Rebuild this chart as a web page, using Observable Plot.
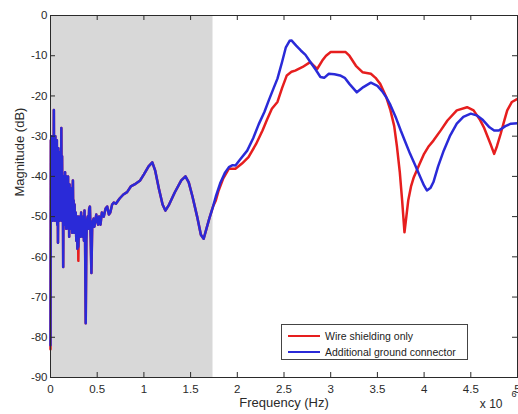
<!DOCTYPE html>
<html><head><meta charset="utf-8">
<script src="https://cdn.jsdelivr.net/npm/d3@7"></script>
<script src="https://cdn.jsdelivr.net/npm/@observablehq/plot@0.6"></script>
<style>
html,body{margin:0;padding:0;background:#fff;}
#wrap{position:relative;width:518px;height:414px;overflow:hidden;}
.legend{position:absolute;left:281px;top:324px;width:185px;height:34px;border:1px solid #444;background:#fff;font:10.5px "Liberation Sans",Arial,sans-serif;color:#222;}
.row{position:absolute;left:0;height:16px;display:flex;align-items:center;white-space:nowrap;}
.sw{display:inline-block;width:32px;height:2.5px;margin-left:6px;margin-right:5px;}
</style></head><body><div id="wrap"></div>
<script>
// ---- data (frequency in units of 10^6 Hz, magnitude in dB) ----
const seriesNames = ["Wire shielding only", "Additional ground connector"];
const seriesColors = ["#e61e1e", "#2a2ad8"];
const xTicks = [0, 0.5, 1, 1.5, 2, 2.5, 3, 3.5, 4, 4.5, 5];
const yTicks = [0, -10, -20, -30, -40, -50, -60, -70, -80, -90];
const shadedBand = [0, 1.74];

// low-frequency part, common to both measurements
const sharedFreq = [0, 0.004, 0.008, 0.012, 0.016, 0.02, 0.024, 0.028, 0.032, 0.036, 0.04, 0.044, 0.048, 0.052, 0.056, 0.06, 0.064, 0.068, 0.072, 0.076, 0.08, 0.084, 0.088, 0.092, 0.096, 0.1, 0.104, 0.108, 0.112, 0.116, 0.12, 0.124, 0.128, 0.132, 0.136, 0.14, 0.144, 0.148, 0.152, 0.156, 0.16, 0.164, 0.168, 0.172, 0.176, 0.18, 0.184, 0.188, 0.192, 0.196, 0.2, 0.204, 0.208, 0.212, 0.216, 0.22, 0.224, 0.228, 0.232, 0.236, 0.24, 0.244, 0.248, 0.252, 0.258, 0.264, 0.27, 0.276, 0.282, 0.288, 0.294, 0.298, 0.304, 0.31, 0.316, 0.322, 0.328, 0.334, 0.34, 0.346, 0.352, 0.358, 0.364, 0.37, 0.377, 0.384, 0.39, 0.398, 0.406, 0.414, 0.422, 0.43, 0.438, 0.446, 0.454, 0.462, 0.47, 0.48, 0.49, 0.5, 0.51, 0.52, 0.535, 0.55, 0.57, 0.59, 0.607, 0.625, 0.64, 0.66, 0.678, 0.7, 0.74, 0.78, 0.82, 0.86, 0.9, 0.96, 1.0, 1.05, 1.09, 1.12, 1.16, 1.2, 1.23, 1.27, 1.33, 1.4, 1.445, 1.48, 1.52, 1.57, 1.61, 1.64, 1.67, 1.7, 1.74];
const sharedMag = [-82, -31, -49, -30, -50, -31, -51, -30, -49, -23.5, -50, -32, -51, -30, -49, -33, -50, -31, -52, -34, -56.5, -33, -50, -35, -51, -34, -49, -36, -50, -28, -51, -35, -50, -40, -62.5, -40, -51, -41, -52, -39, -50, -41, -53, -40, -51, -42, -52, -40, -53, -43, -55, -42, -52, -44, -53, -43, -51, -45, -54, -44, -41, -52, -46, -54, -47, -53, -49, -56, -50, -58, -50, -57.5, -52, -54, -50, -55, -49, -54, -50, -55, -51, -56, -48.5, -55, -76.5, -56, -51, -50, -53, -48, -47.5, -55, -64, -53, -51, -50.5, -52.5, -51, -49.5, -51, -52, -50, -52, -49, -50, -48, -47.5, -49.5, -49, -47, -46.5, -46.8, -45.5, -44.5, -43.9, -42.5, -42, -41, -39.5, -37.5, -36.5, -38.5, -43, -47, -48.5, -47, -44, -41, -40, -41.5, -45, -50, -54.5, -55.5, -53, -50.5, -47.5];

// where the red trace peeks out below the blue one in the shared part
const redLowFreq = [0, 0.298];
const redLowMag = [-83, -61];

// wire shielding only (red), above the shaded band
const redFreq = [1.77, 1.8, 1.85, 1.91, 1.98, 2.05, 2.12, 2.2, 2.27, 2.32, 2.37, 2.43, 2.48, 2.53, 2.58, 2.62, 2.7, 2.78, 2.855, 2.91, 2.95, 3.0, 3.05, 3.16, 3.2, 3.27, 3.34, 3.43, 3.48, 3.53, 3.59, 3.64, 3.68, 3.71, 3.74, 3.765, 3.79, 3.81, 3.83, 3.86, 3.89, 3.95, 4.0, 4.05, 4.1, 4.18, 4.25, 4.35, 4.46, 4.53, 4.6, 4.64, 4.71, 4.75, 4.78, 4.82, 4.86, 4.89, 4.94, 5.0];
const redMag = [-46, -43.5, -40.5, -38.1, -38.1, -36.8, -35.2, -32, -28.6, -25.8, -23.2, -21.5, -18, -14.9, -14, -13.7, -12.8, -11.6, -13.3, -11.2, -10, -9.1, -9.1, -9.1, -10, -12.5, -14.1, -14.5, -15.5, -17, -20, -23.6, -27.5, -32.7, -39, -46, -53.9, -50, -46, -42.5, -40.2, -37, -34.4, -32.5, -31.1, -28.5, -26.1, -23.6, -22.8, -23.6, -26, -27.8, -31.9, -34.4, -32.5, -29.4, -26, -23.6, -21.5, -20.7];

// additional ground connector (blue), above the shaded band
const blueFreq = [1.77, 1.82, 1.87, 1.91, 1.95, 1.98, 2.03, 2.106, 2.17, 2.23, 2.29, 2.337, 2.39, 2.43, 2.48, 2.52, 2.56, 2.58, 2.63, 2.68, 2.73, 2.78, 2.84, 2.89, 2.93, 2.98, 3.04, 3.1, 3.15, 3.2, 3.28, 3.35, 3.43, 3.5, 3.55, 3.6, 3.64, 3.7, 3.75, 3.8, 3.85, 3.9, 3.96, 4.0, 4.03, 4.07, 4.1, 4.15, 4.21, 4.28, 4.35, 4.42, 4.5, 4.57, 4.63, 4.7, 4.75, 4.8, 4.87, 4.93, 5.0];
const blueMag = [-45, -41.5, -39, -37.7, -37.2, -37.3, -35.8, -33.6, -30.5, -27, -24, -21.1, -18, -15.7, -11.5, -7.9, -6.3, -6.2, -7.5, -8.7, -9.8, -11.5, -13.5, -15.3, -15.5, -14.5, -14.6, -14.9, -15.5, -17, -19.1, -17.8, -16.7, -17.5, -18.8, -20.5, -22.3, -25.5, -28.6, -31.5, -34.4, -37, -40.2, -42.3, -43.5, -42.8, -41.4, -37.5, -33.6, -29.8, -26.9, -25.2, -24.4, -24.9, -26, -27.8, -28.6, -28.6, -27.5, -26.9, -26.8];

// ---- build tables ----
const redOverride = new Map(redLowFreq.map((f, i) => [f, redLowMag[i]]));
const redData = sharedFreq.map((f, i) => ({f, m: redOverride.has(f) ? redOverride.get(f) : sharedMag[i]}))
  .concat(redFreq.map((f, i) => ({f, m: redMag[i]})));
const blueData = sharedFreq.map((f, i) => ({f, m: sharedMag[i]}))
  .concat(blueFreq.map((f, i) => ({f, m: blueMag[i]})));

const W = 518, H = 414, mL = 50, mR = 1, mT = 15, mB = 37;
const fw = W - mL - mR, fh = H - mT - mB, tk = 5;
const ink = "#2a2a2a";

const chart = Plot.plot({
  width: W, height: H,
  marginLeft: mL, marginRight: mR, marginTop: mT, marginBottom: mB,
  style: {fontFamily: "'Liberation Sans', Arial, sans-serif", fontSize: "11.5px", color: ink, background: "#fff", overflow: "visible"},
  x: {domain: [0, 5]},
  y: {domain: [-90, 0]},
  marks: [
    Plot.rect([shadedBand], {x1: d => d[0], x2: d => d[1], fill: "#d8d8d8"}),
    Plot.line(redData, {x: "f", y: "m", stroke: seriesColors[0], strokeWidth: 2.5, curve: "linear"}),
    Plot.line(blueData, {x: "f", y: "m", stroke: seriesColors[1], strokeWidth: 2.5, curve: "linear"}),
    Plot.frame({stroke: ink, strokeWidth: 1}),
    Plot.tickX(xTicks, {x: d => d, insetTop: fh - tk, stroke: ink}),
    Plot.tickX(xTicks, {x: d => d, insetBottom: fh - tk, stroke: ink}),
    Plot.tickY(yTicks, {y: d => d, insetRight: fw - tk, stroke: ink}),
    Plot.tickY(yTicks, {y: d => d, insetLeft: fw - tk, stroke: ink}),
    Plot.axisX(xTicks, {tickSize: 0, tickPadding: 7, tickFormat: d => String(d), label: null, fill: ink}),
    Plot.axisY(yTicks, {tickSize: 0, tickPadding: 3, tickFormat: d => String(d), label: null, fill: ink}),
    Plot.text(["Frequency (Hz)"], {text: d => d, frameAnchor: "bottom", dy: 29, fontSize: 13, fill: ink}),
    Plot.text(["Magnitude (dB)"], {text: d => d, frameAnchor: "left", dx: -31, rotate: -90, fontSize: 13, fill: ink}),
    Plot.text(["x 10"], {text: d => d, frameAnchor: "bottom-right", dx: -15, dy: 30, fontSize: 12, fill: ink}),
    Plot.text(["6"], {text: d => d, frameAnchor: "bottom-right", dx: -1, dy: 19, fontSize: 9, fill: ink})
  ]
});

const wrap = document.getElementById("wrap");
wrap.appendChild(chart);

const legend = document.createElement("div");
legend.className = "legend";
seriesNames.forEach((name, i) => {
  const row = document.createElement("div");
  row.className = "row";
  row.style.top = (3 + i * 16) + "px";
  const sw = document.createElement("span");
  sw.className = "sw";
  sw.style.background = seriesColors[i];
  const label = document.createElement("span");
  label.textContent = name;
  row.appendChild(sw);
  row.appendChild(label);
  legend.appendChild(row);
});
wrap.appendChild(legend);
</script>
</body></html>
